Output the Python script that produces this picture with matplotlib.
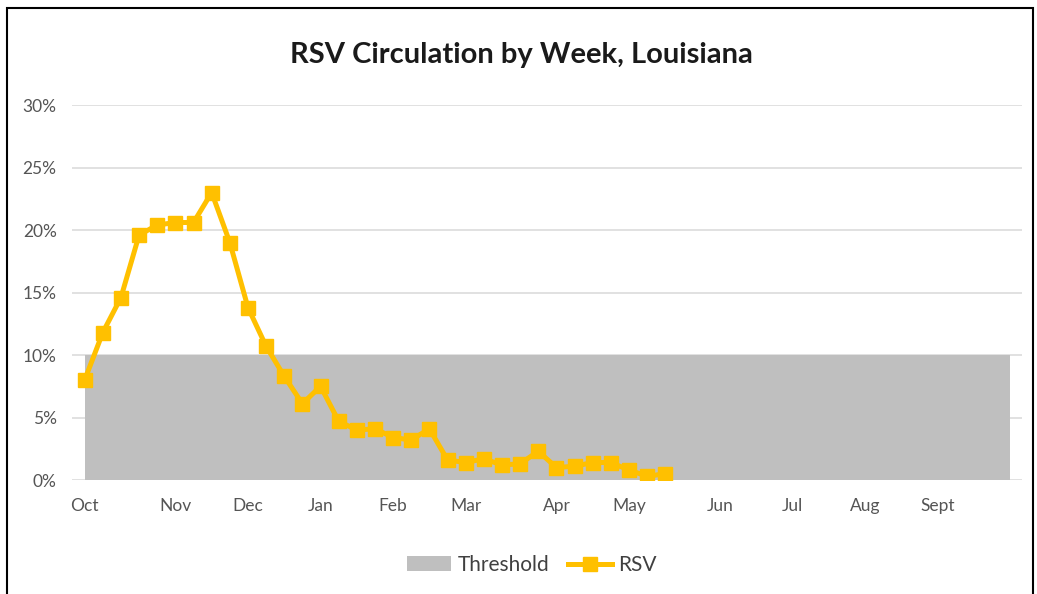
import matplotlib.pyplot as plt
from matplotlib.patches import Rectangle, Patch
from matplotlib.lines import Line2D
from matplotlib.ticker import FuncFormatter

plt.rcParams['font.family'] = ['Lato', 'DejaVu Sans']

# weekly RSV positivity (fraction), week 0 = first week of Oct
rsv = [0.080, 0.118, 0.146, 0.196, 0.204, 0.206, 0.206, 0.230, 0.190, 0.138,
       0.107, 0.083, 0.061, 0.075, 0.047, 0.040, 0.041, 0.034, 0.032, 0.041,
       0.016, 0.014, 0.017, 0.012, 0.013, 0.023, 0.010, 0.011, 0.014, 0.014,
       0.008, 0.003, 0.005]
n_weeks = 52
threshold = 0.10

month_labels = ['Oct', 'Nov', 'Dec', 'Jan', 'Feb', 'Mar', 'Apr', 'May',
                'Jun', 'Jul', 'Aug', 'Sept']
month_weeks = [0, 5, 9, 13, 17, 21, 26, 30, 35, 39, 43, 47]

fig = plt.figure(figsize=(10.37, 5.94), dpi=100)
ax = fig.add_axes([0.0694, 0.1919, 0.9161, 0.6313])

weeks = list(range(n_weeks))
ax.fill_between(weeks, 0, [threshold] * n_weeks, color='#BFBFBF', lw=0, zorder=2)
ax.plot(range(len(rsv)), rsv, color='#FFC000', lw=3.6, marker='s', ms=10,
        zorder=3, solid_joinstyle='miter')

ax.set_xlim(-0.7, n_weeks - 1 + 0.66)
ax.set_ylim(0, 0.30)
ax.set_yticks([0, 0.05, 0.10, 0.15, 0.20, 0.25, 0.30])
ax.yaxis.set_major_formatter(FuncFormatter(lambda v, p: f'{v * 100:.0f}%'))
ax.set_xticks(month_weeks)
ax.set_xticklabels(month_labels)
ax.tick_params(length=0, labelsize=12.5, labelcolor='#555555')
ax.tick_params(axis='x', pad=13)
ax.tick_params(axis='y', pad=11)
ax.grid(axis='y', color='#D9D9D9', lw=1.1, zorder=1)
ax.set_axisbelow(True)
for s in ax.spines.values():
    s.set_visible(False)

fig.text(0.503, 0.908, 'RSV Circulation by Week, Louisiana', ha='center',
         va='center', fontsize=21, fontweight='bold', color='#1a1a1a')

handles = [Patch(facecolor='#BFBFBF', edgecolor='none'),
           Line2D([], [], color='#FFC000', lw=3.6, marker='s', ms=10)]
fig.legend(handles, ['Threshold', 'RSV'], loc='center', bbox_to_anchor=(0.513, 0.049),
           ncol=2, frameon=False, fontsize=15, handlelength=2.1,
           handletextpad=0.3, columnspacing=0.9, labelcolor='#404040')

fig.patches.append(Rectangle((0.007, -0.05), 0.989, 1.036, transform=fig.transFigure,
                             fill=False, edgecolor='black', lw=1.5))

fig.savefig('out.png', dpi=100)
